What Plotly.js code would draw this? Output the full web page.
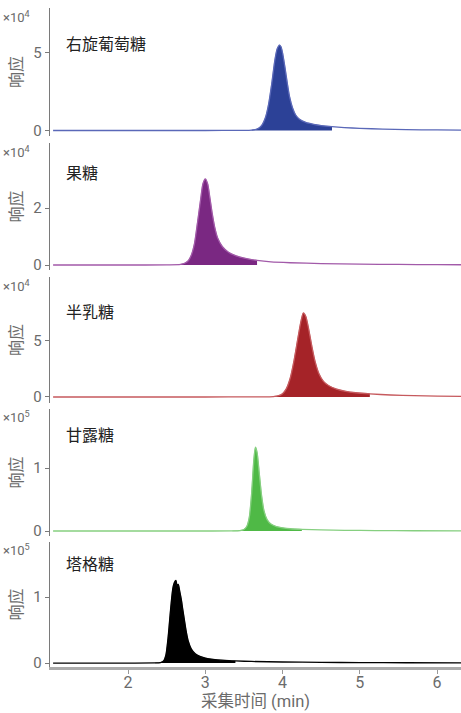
<!DOCTYPE html>
<html>
<head>
<meta charset="utf-8">
<script src="https://cdn.plot.ly/plotly-3.0.1.min.js"></script>
<style>html,body{margin:0;padding:0;background:#fff;}#chart{width:461px;height:713px;}</style>
</head>
<body>
<div id="chart"></div>
<script>
// ---- data ----
var sugars = ['右旋葡萄糖', '果糖', '半乳糖', '甘露糖', '塔格糖'];
var scaleExp = [4, 4, 4, 5, 5];

var t1 = [1.03, 2.0, 3.0, 3.5, 3.60, 3.66, 3.70, 3.74, 3.78, 3.82, 3.86, 3.90, 3.93, 3.96, 3.98, 4.00, 4.03, 4.06, 4.09, 4.13, 4.17, 4.22, 4.30, 4.40, 4.50, 4.64, 4.8, 5.0, 5.3, 5.6, 6.0, 6.31];
var r1 = [0, 0, 0, 100, 300, 800, 1800, 4000, 8500, 17000, 30000, 45000, 52500, 55000, 54000, 50000, 41000, 31000, 22000, 14500, 10000, 7200, 5200, 4000, 3200, 2500, 1900, 1400, 900, 600, 350, 250];

var t2 = [1.03, 2.0, 2.5, 2.68, 2.74, 2.78, 2.82, 2.86, 2.90, 2.94, 2.97, 3.00, 3.03, 3.06, 3.09, 3.12, 3.16, 3.22, 3.30, 3.40, 3.52, 3.67, 3.85, 4.1, 4.5, 5.0, 5.5, 6.0, 6.31];
var r2 = [0, 0, 50, 200, 700, 1500, 3500, 7500, 15000, 23000, 28500, 30200, 28500, 23500, 18000, 13500, 9500, 6500, 4500, 3200, 2300, 1600, 1100, 800, 500, 300, 200, 120, 100];

var t3 = [1.03, 3.0, 3.7, 3.88, 3.95, 4.00, 4.05, 4.10, 4.15, 4.20, 4.24, 4.27, 4.30, 4.34, 4.38, 4.42, 4.47, 4.53, 4.60, 4.70, 4.82, 4.95, 5.13, 5.4, 5.7, 6.0, 6.31];
var r3 = [0, 0, 100, 400, 1200, 3000, 7500, 17000, 33000, 53000, 68000, 75000, 72000, 60000, 45000, 32000, 21000, 14000, 10000, 7000, 5000, 3800, 2800, 1800, 1200, 800, 600];

var t4 = [1.03, 3.0, 3.35, 3.45, 3.50, 3.54, 3.57, 3.60, 3.63, 3.65, 3.67, 3.70, 3.73, 3.76, 3.80, 3.85, 3.92, 4.0, 4.1, 4.25, 4.5, 4.8, 5.2, 5.7, 6.31];
var r4 = [0, 0, 200, 800, 2500, 8000, 22000, 60000, 115000, 133000, 125000, 90000, 55000, 32000, 18000, 11000, 7000, 5000, 3600, 2600, 1700, 1100, 700, 400, 250];

var t5 = [1.03, 2.0, 2.35, 2.42, 2.46, 2.49, 2.52, 2.55, 2.58, 2.60, 2.62, 2.635, 2.65, 2.67, 2.69, 2.71, 2.73, 2.75, 2.78, 2.82, 2.87, 2.93, 3.0, 3.1, 3.25, 3.39, 3.6, 4.0, 4.5, 5.0, 5.6, 6.31];
var r5 = [0, 0, 200, 800, 3000, 12000, 40000, 80000, 113000, 122000, 125000, 117000, 119000, 108000, 96000, 80000, 65000, 50000, 33000, 21000, 14000, 10000, 7500, 5500, 4000, 3200, 2400, 1600, 1000, 700, 450, 300];

var fillStart = [3.60, 2.68, 3.88, 3.35, 2.35];
var fillEnd = [4.64, 3.67, 5.13, 4.25, 3.39];

var yTickVals = [[0, 50000], [0, 20000], [0, 50000], [0, 100000], [0, 100000]];
var yTickText = [['0', '5'], ['0', '2'], ['0', '5'], ['0', '1'], ['0', '1']];
var yRanges = [[-3550, 79000], [-1750, 42800], [-5360, 107100], [-7900, 193700], [-6000, 183300]];
var xTicks = [2, 3, 4, 5, 6];

// ---- styling / layout config ----
var fillColors = ['#2c4197', '#7a2882', '#a52328', '#4fb946', '#000000'];
var lineColors = ['#5a68b8', '#a25aa9', '#c65a5e', '#86cf80', '#000000'];
var panelPx = [[8, 136], [143, 270], [277, 403], [409, 536], [542, 667]];
var labelPx = [43, 172, 311, 434, 563];
var expPx = [17, 152, 286, 417, 550];

var times = [t1, t2, t3, t4, t5];
var resps = [r1, r2, r3, r4, r5];
var FONT = "Roboto, 'Noto Sans CJK SC', sans-serif";
var GREY = '#6b6b6b';
var PT = 8, PB = 667, PH = PB - PT;
function py(p) { return (PB - p) / PH; }

var traces = [];
var annotations = [];
var layout = {
  width: 461, height: 713,
  margin: {l: 50, r: 0, t: PT, b: 713 - PB},
  paper_bgcolor: '#ffffff', plot_bgcolor: '#ffffff',
  showlegend: false,
  font: {family: FONT, color: GREY, size: 14},
  xaxis: {
    range: [0.99, 6.31], anchor: 'y5',
    showline: true, linecolor: '#ababab', linewidth: 3,
    ticks: 'outside', ticklen: 4, tickcolor: '#999', tickwidth: 1,
    tickvals: xTicks, ticktext: xTicks.map(String),
    tickfont: {size: 16, color: GREY, family: FONT},
    ticklabelstandoff: -5,
    showgrid: false, zeroline: false,
    title: {text: '采集时间 (min)', font: {size: 16.5, color: GREY, family: FONT}, standoff: 2}
  }
};

for (var k = 0; k < 5; k++) {
  var yn = k === 0 ? 'y' : 'y' + (k + 1);
  var axName = k === 0 ? 'yaxis' : 'yaxis' + (k + 1);
  var dom = [Math.max(0, py(panelPx[k][1])), Math.min(1, py(panelPx[k][0]))];
  layout[axName] = {
    domain: dom, anchor: 'x', range: yRanges[k],
    showline: true, linecolor: '#7a7a7a', linewidth: 1.3,
    ticks: 'outside', ticklen: 4, tickcolor: '#7a7a7a', tickwidth: 1,
    tickvals: yTickVals[k], ticktext: yTickText[k],
    tickfont: {size: 15, color: GREY, family: FONT},
    showgrid: false, zeroline: false,
    title: {text: '响应', font: {size: 16, color: GREY, family: FONT}, standoff: 6}
  };
  var tx = times[k], ry = resps[k];
  var fx = [], fy = [];
  for (var i = 0; i < tx.length; i++) {
    if (tx[i] >= fillStart[k] && tx[i] <= fillEnd[k]) { fx.push(tx[i]); fy.push(ry[i]); }
  }
  traces.push({
    x: fx, y: fy, xaxis: 'x', yaxis: yn, type: 'scatter', mode: 'lines',
    fill: 'tozeroy', fillcolor: fillColors[k],
    line: {width: 0.5, color: fillColors[k], shape: 'spline', smoothing: 0.7},
    hoverinfo: 'skip'
  });
  traces.push({
    x: tx, y: ry, xaxis: 'x', yaxis: yn, type: 'scatter', mode: 'lines',
    line: {width: 1.3, color: lineColors[k], shape: 'spline', smoothing: 0.7}
  });
  annotations.push({
    xref: 'paper', yref: 'paper', x: 0.034, y: py(labelPx[k]), xanchor: 'left', yanchor: 'middle',
    text: sugars[k], showarrow: false,
    font: {size: 16, color: '#222', family: "'Noto Sans CJK SC', sans-serif"}
  });
  annotations.push({
    xref: 'paper', yref: 'paper', x: -0.043, y: py(expPx[k]), xanchor: 'right', yanchor: 'middle',
    text: '×10<sup>' + scaleExp[k] + '</sup>', showarrow: false,
    font: {size: 13, color: GREY, family: FONT}
  });
}
layout.annotations = annotations;

Plotly.newPlot('chart', traces, layout, {staticPlot: true, displayModeBar: false});
</script>
</body>
</html>
